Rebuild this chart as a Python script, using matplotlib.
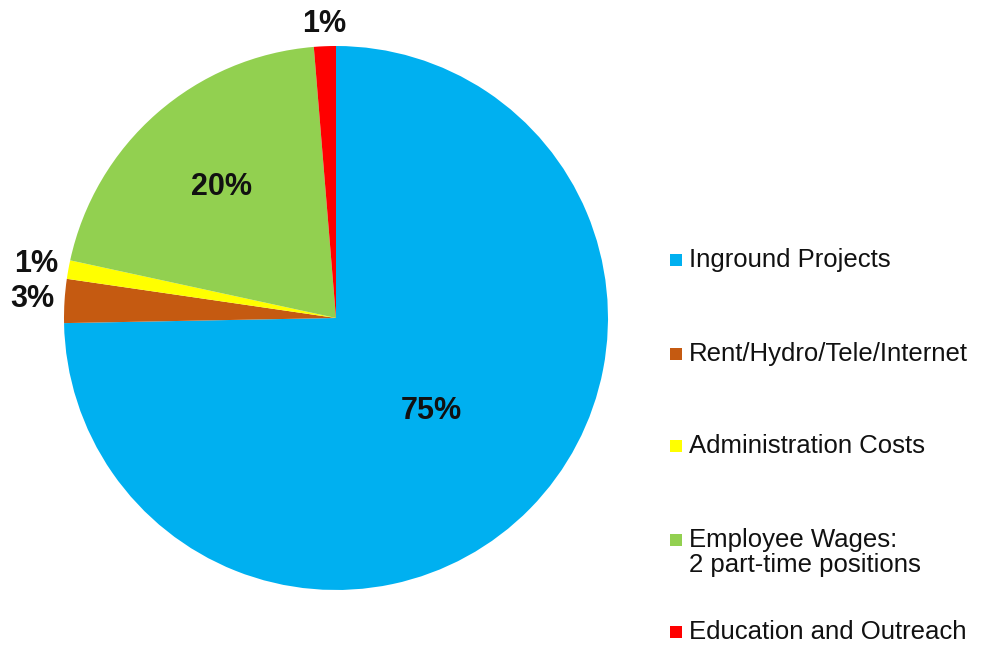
import numpy as np
import matplotlib
matplotlib.use('agg')
import matplotlib.pyplot as plt
from matplotlib.patches import Rectangle

plt.rcParams['font.family'] = ['Liberation Sans', 'DejaVu Sans']

# budget breakdown (percent)
categories = ['Inground Projects', 'Rent/Hydro/Tele/Internet', 'Administration Costs',
              'Employee Wages:\n2 part-time positions', 'Education and Outreach']
values = [74.7, 2.6, 1.1, 20.3, 1.3]
colors = ['#00B0F0', '#C55A11', '#FFFF00', '#92D050', '#FF0000']
label_dist = [0.49, 1.12, 1.12, 0.64, 1.08]

fig = plt.figure(figsize=(9.81, 6.51), dpi=100)
W, H = 981, 651
cx, cy, r = 336, 318, 272
ax = fig.add_axes([(cx - r) / W, (H - cy - r) / H, 2 * r / W, 2 * r / H])

wedges, _ = ax.pie(values, colors=colors, startangle=90, counterclock=False,
                   radius=1.0, wedgeprops={'linewidth': 0})
ax.set_xlim(-1, 1)
ax.set_ylim(-1, 1)
ax.set_aspect('equal')
ax.axis('off')

for w, v, d in zip(wedges, values, label_dist):
    mid = np.deg2rad((w.theta1 + w.theta2) / 2)
    ax.text(d * np.cos(mid), d * np.sin(mid), f'{v:.0f}%', ha='center', va='center',
            fontsize=22, fontweight='bold', color='#111111', clip_on=False)

# legend drawn by hand so the marker sits on the first line
leg_y = [260, 354, 446, 540, 632]
for lab, col, y in zip(categories, colors, leg_y):
    fig.patches.append(Rectangle((670 / W, (H - y - 6) / H), 12 / W, 12 / H,
                                 transform=fig.transFigure, facecolor=col,
                                 edgecolor='none'))
    fig.text(689 / W, (H - y + 12) / H, lab, ha='left', va='top', fontsize=18.5,
             color='#111111', linespacing=1.05)

fig.savefig('out.png', dpi=100, facecolor='white')
